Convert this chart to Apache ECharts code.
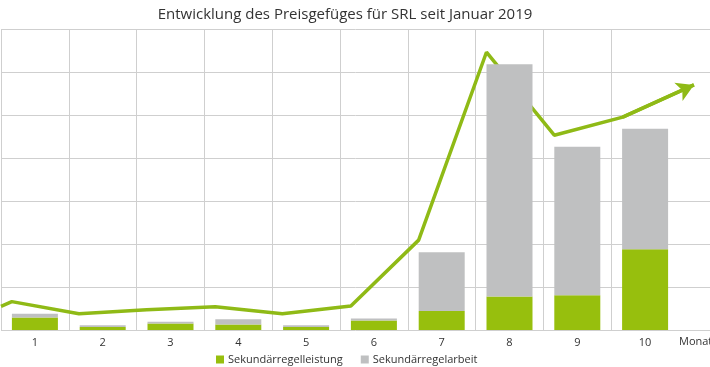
<!DOCTYPE html>
<html>
<head>
<meta charset="utf-8">
<script src="https://cdn.jsdelivr.net/npm/echarts@6/dist/echarts.min.js"></script>
<style>html,body{margin:0;padding:0;background:#fff}#c{width:710px;height:367px}</style>
</head>
<body>
<div id="c"></div>
<script>
// ---- data ----
var titleText = 'Entwicklung des Preisgefüges für SRL seit Januar 2019';
var months = ['1','2','3','4','5','6','7','8','9','10'];
var axisName = 'Monat';
var seriesNames = ['Sekundärregelleistung', 'Sekundärregelarbeit'];
var leistung = [0.29, 0.07, 0.15, 0.13, 0.07, 0.22, 0.44, 0.78, 0.81, 1.88];
var arbeit   = [0.09, 0.04, 0.04, 0.12, 0.04, 0.05, 1.37, 5.40, 3.45, 2.80];
// trend line (x in month units, y in grid units)
var trendX = [0.5, 0.66, 1.65, 2.65, 3.66, 4.65, 5.66, 6.66, 7.66, 8.66, 9.67];
var trendY = [0.55, 0.66, 0.38, 0.47, 0.54, 0.38, 0.56, 2.09, 6.46, 4.53, 4.95];
var arrowTip = [10.72, 5.70];

var green = '#97bf0d';
var lineGreen = '#8fba16';
var grey = '#bfc0c1';
var gridColor = '#cfcfcf';
var font = 'Open Sans';

var chart = echarts.init(document.getElementById('c'), null, {renderer: 'canvas'});
var trendData = trendX.map(function (x, i) { return [x, trendY[i]]; });
trendData.push(arrowTip);

chart.setOption({
  animation: false,
  textStyle: {fontFamily: font},
  title: {
    text: titleText, left: 340, top: 2, textAlign: 'center',
    textStyle: {fontFamily: font, fontSize: 15, fontWeight: 'normal', color: '#333'}
  },
  legend: {
    left: 211, top: 349, itemWidth: 8, itemHeight: 8, itemGap: 18,
    icon: 'rect',
    textStyle: {fontFamily: font, fontSize: 11, color: '#333', padding: [0,0,0,-1]},
    data: seriesNames
  },
  grid: [
    {left: 1, right: 31, top: 29, bottom: 37, containLabel: false, outerBoundsMode: 'none'},
    {left: 1, right: 0, top: 29, bottom: 37, containLabel: false, outerBoundsMode: 'none'}
  ],
  xAxis: [
    {
      type: 'category', gridIndex: 0, data: months,
      axisLine: {show: false}, axisTick: {show: false},
      axisLabel: {margin: 7, fontSize: 11, color: '#333', fontFamily: font, verticalAlign: 'top'},
      splitLine: {show: true, showMaxLine: false, lineStyle: {color: gridColor, width: 1}},
      name: axisName, nameLocation: 'end', nameGap: 0, nameMoveOverlap: false,
      nameTextStyle: {fontSize: 11, color: '#333', fontFamily: font, verticalAlign: 'top', align: 'left', padding: [6, 0, 0, 0]}
    },
    {
      type: 'value', gridIndex: 1, min: 0.5, max: 0.5 + 709 / 67.8,
      show: false
    }
  ],
  yAxis: [
    {type: 'value', gridIndex: 0, min: 0, max: 7, interval: 1, show: false},
    {
      type: 'value', gridIndex: 1, min: 0, max: 7, interval: 1,
      axisLine: {show: false}, axisTick: {show: false}, axisLabel: {show: false},
      splitLine: {show: true, lineStyle: {color: gridColor, width: 1}}
    }
  ],
  series: [
    {
      type: 'line', xAxisIndex: 1, yAxisIndex: 1, z: 1,
      data: trendData, symbol: 'none', silent: true,
      lineStyle: {color: lineGreen, width: 3.5},
      markLine: {
        silent: true, symbol: ['none', 'arrow'], symbolSize: [15, 17],
        label: {show: false},
        lineStyle: {color: lineGreen, width: 3.5, type: 'solid'},
        data: [[{coord: trendData[trendData.length - 2]}, {coord: arrowTip}]]
      }
    },
    {
      name: seriesNames[0], type: 'bar', stack: 's', xAxisIndex: 0, yAxisIndex: 0, z: 3,
      barWidth: 46, data: leistung, itemStyle: {color: green}
    },
    {
      name: seriesNames[1], type: 'bar', stack: 's', xAxisIndex: 0, yAxisIndex: 0, z: 3,
      barWidth: 46, data: arbeit, itemStyle: {color: grey}
    }
  ]
});
</script>
</body>
</html>
